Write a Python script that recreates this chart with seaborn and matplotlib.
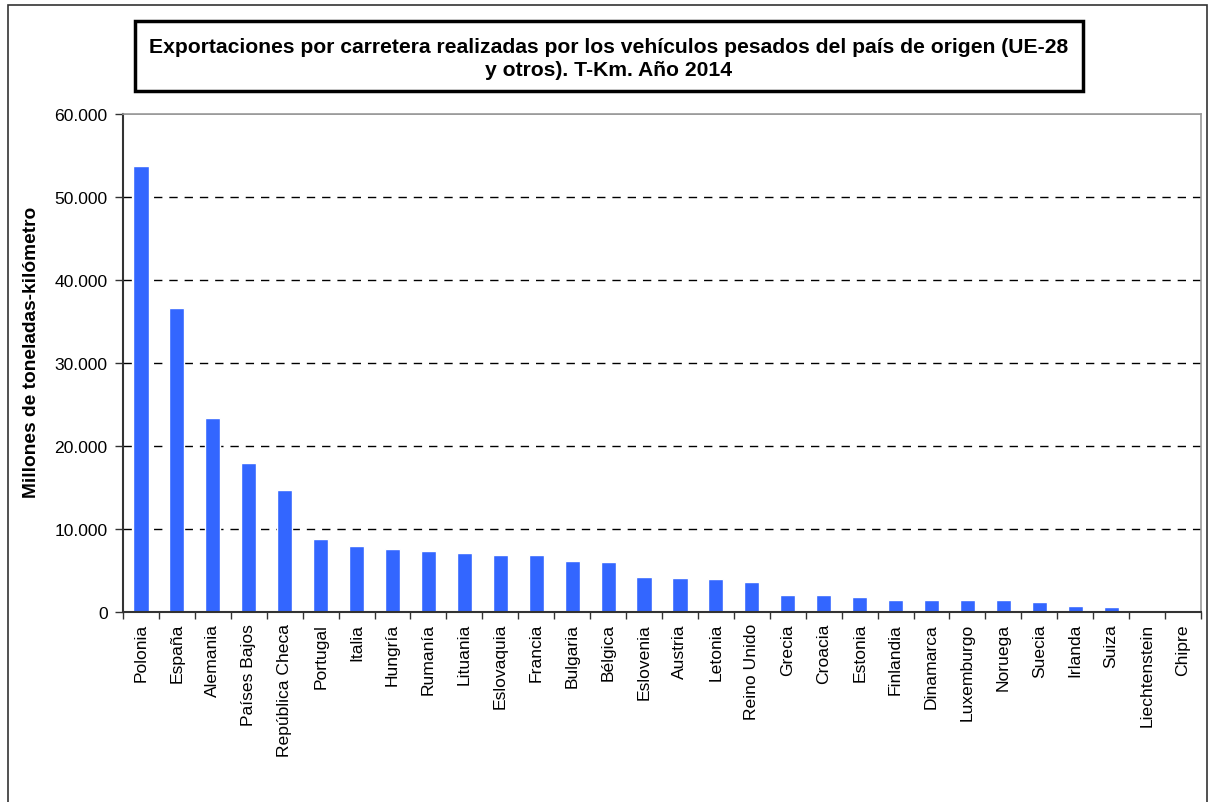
import pandas as pd
import numpy as np
import matplotlib
matplotlib.use('Agg')
import matplotlib.pyplot as plt
from matplotlib.patches import Rectangle
from matplotlib.ticker import FuncFormatter, FixedLocator
import seaborn as sns

# Datos (millones de t-km)
paises = ['Polonia', 'España', 'Alemania', 'Países Bajos', 'República Checa',
          'Portugal', 'Italia', 'Hungría', 'Rumanía', 'Lituania',
          'Eslovaquia', 'Francia', 'Bulgaria', 'Bélgica', 'Eslovenia',
          'Austria', 'Letonia', 'Reino Unido', 'Grecia', 'Croacia',
          'Estonia', 'Finlandia', 'Dinamarca', 'Luxemburgo', 'Noruega',
          'Suecia', 'Irlanda', 'Suiza', 'Liechtenstein', 'Chipre']
tkm = [53700, 36600, 23400, 18000, 14700,
       8800, 8000, 7650, 7400, 7150,
       6900, 6900, 6200, 6050, 4250,
       4150, 4000, 3600, 2100, 2000,
       1750, 1500, 1400, 1400, 1400,
       1250, 750, 650, 80, 10]
y_ticks = [0, 10000, 20000, 30000, 40000, 50000, 60000]

df = pd.DataFrame({'pais': paises, 'tkm': tkm})

sns.set_style('white')
plt.rcParams['font.family'] = ['Liberation Sans', 'DejaVu Sans']
plt.rcParams['text.color'] = 'black'
plt.rcParams['xtick.color'] = 'black'
plt.rcParams['ytick.color'] = 'black'
plt.rcParams['axes.labelcolor'] = 'black'

fig = plt.figure(figsize=(12.1, 8.03), dpi=100)
ax = fig.add_axes([123 / 1210, 1 - 613 / 803, (1201 - 123) / 1210, (613 - 115) / 803])

sns.barplot(data=df, x='pais', y='tkm', color='#3366FF', saturation=1,
            width=0.42, ax=ax)

ax.set_ylim(0, 60000)
ax.set_xlim(-0.5, len(paises) - 0.5)
ax.yaxis.set_major_locator(FixedLocator(y_ticks))
ax.yaxis.set_major_formatter(FuncFormatter(lambda v, p: f'{int(v):,}'.replace(',', '.')))

# dashed gridlines
for v in y_ticks[1:-1]:
    ax.axhline(v, color='black', lw=1, ls=(0, (6, 5)), zorder=0)
ax.axhline(60000, color='#999999', lw=1.2, zorder=0)

# ticks: y outward, x ticks between categories
ax.tick_params(axis='y', which='major', direction='out', length=6, width=1,
               color='#333333', labelsize=12.6, pad=5, left=True)
ax.tick_params(axis='x', which='major', length=0, labelsize=12.6, pad=8)
ax.set_xticks(np.arange(len(paises) + 1) - 0.5, minor=True)
ax.tick_params(axis='x', which='minor', direction='out', length=5, width=1,
               color='#333333', bottom=True)
plt.setp(ax.get_xticklabels(), rotation=90)

for side in ['left', 'bottom']:
    ax.spines[side].set_color('#333333')
    ax.spines[side].set_linewidth(1.5)
for side in ['top', 'right']:
    ax.spines[side].set_color('#999999')
    ax.spines[side].set_linewidth(1.2)

ax.set_xlabel('')
ax.set_ylabel('Millones de toneladas-kilómetro', fontsize=13.8, fontweight='bold')
ax.yaxis.set_label_coords(-(123 - 40) / 1078, 1 - (352 - 115) / 498)

# title box
fig.text(609 / 1210, 1 - 59 / 803,
         'Exportaciones por carretera realizadas por los vehículos pesados del país de origen (UE-28\ny otros). T-Km. Año 2014',
         ha='center', va='center', fontsize=15.2, fontweight='bold', linespacing=1.32)
fig.patches.append(Rectangle((135 / 1210, 1 - 92 / 803), (1083 - 135) / 1210, (92 - 22) / 803,
                             transform=fig.transFigure, fill=False, ec='black', lw=2.5))
# outer frame
fig.patches.append(Rectangle((8 / 1210, -0.01), (1207 - 8) / 1210, 1 - 6 / 803 + 0.01,
                             transform=fig.transFigure, fill=False, ec='#333333', lw=1.2))

fig.savefig('out.png', dpi=100)
